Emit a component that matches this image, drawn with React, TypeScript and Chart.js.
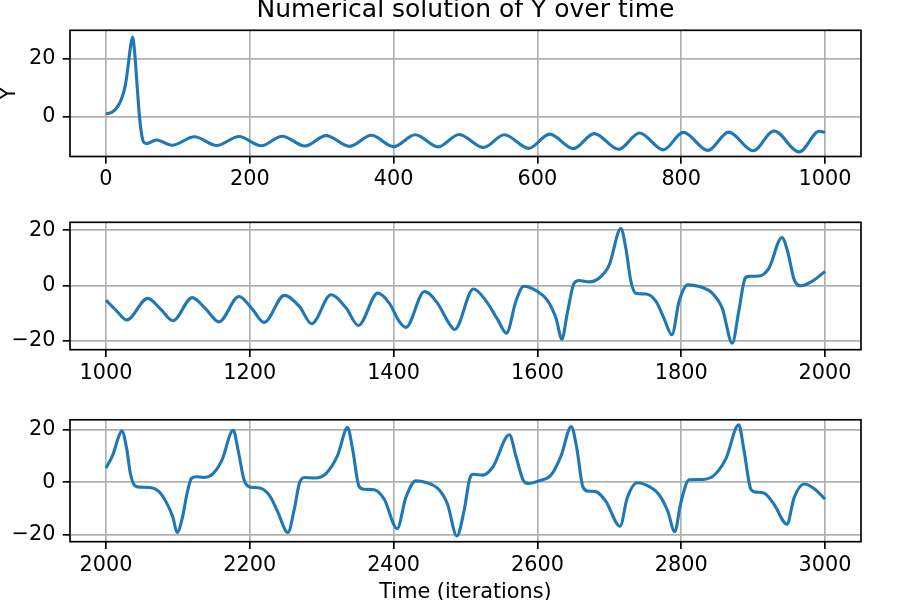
import { useEffect, useRef } from "react"
import { Chart, registerables } from "chart.js"

Chart.register(...registerables)

// Values (iteration, Y)
const panel1Time = [
  0, 8, 16, 22, 27, 31, 34, 37, 40, 43, 46, 49, 52, 56, 70, 92, 123, 154, 185, 216, 245, 277, 306, 339,
  369, 400, 430, 462, 491, 525, 554, 588, 617, 650, 679, 713, 742, 775, 803, 837, 866, 900, 929, 964,
  992, 1000,
]
const panel1Y = [
  1.1, 1.6, 3.5, 6.5, 11, 18, 24, 27.6, 22, 12, 2, -5, -8.5, -9.2, -7.9, -9.7, -6.8, -9.8, -6.7, -9.9,
  -6.6, -10.0, -6.4, -10.1, -6.3, -10.2, -6.1, -10.3, -6.0, -10.5, -6.1, -10.8, -5.9, -10.9, -5.7,
  -11.1, -5.5, -11.3, -5.3, -11.5, -5.2, -11.6, -4.8, -12.0, -4.9, -5.3,
]

const panel2Time = [
  1000, 1015, 1029, 1058, 1076, 1093, 1120, 1139, 1157, 1185, 1203, 1220, 1248, 1269, 1286, 1313, 1334,
  1351, 1378, 1394, 1408, 1417, 1443, 1461, 1477, 1485, 1511, 1528, 1545, 1557, 1570, 1581, 1600, 1614,
  1626, 1634, 1642, 1651, 1658, 1672, 1686, 1700, 1716, 1723, 1730, 1737, 1751, 1765, 1776, 1787, 1797,
  1809, 1825, 1843, 1857, 1871, 1880, 1889, 1894, 1908, 1922, 1940, 1948, 1957, 1966, 1982, 2000,
]
const panel2Y = [
  -5.3, -9.3, -12.5, -4.7, -8.6, -12.8, -4.4, -8.6, -13.2, -4.0, -8.4, -13.4, -3.6, -7.6, -13.9, -3.4,
  -8.2, -14.5, -2.8, -6.4, -13.1, -15.2, -2.2, -6.4, -13.7, -16.0, -1.3, -5.4, -12.5, -17.3, -5.8,
  -0.3, -2.2, -5.4, -12.0, -19.5, -9.4, 0.8, 1.8, 1.3, 2.7, 7.5, 20.6, 13.5, 1.5, -2.8, -3.1, -5.8,
  -11.9, -17.9, -5.8, 0.2, -0.4, -2.8, -8.2, -20.9, -9.4, 2.7, 3.3, 3.4, 6.3, 17.4, 12.3, 2.1, -0.1,
  1.5, 5.1,
]

const panel3Time = [
  2000, 2010, 2016, 2022, 2029, 2034, 2040, 2047, 2061, 2073, 2084, 2093, 2099, 2106, 2113, 2119, 2126,
  2135, 2149, 2161, 2177, 2184, 2192, 2200, 2214, 2228, 2239, 2253, 2262, 2269, 2276, 2290, 2306, 2322,
  2336, 2343, 2352, 2359, 2373, 2387, 2405, 2417, 2431, 2445, 2463, 2475, 2488, 2498, 2506, 2511, 2524,
  2538, 2561, 2570, 2580, 2587, 2603, 2619, 2633, 2647, 2655, 2663, 2670, 2681, 2695, 2715, 2725, 2739,
  2755, 2769, 2781, 2791, 2799, 2811, 2825, 2843, 2862, 2880, 2887, 2897, 2904, 2915, 2929, 2947, 2957,
  2971, 2985, 3000,
]
const panel3Y = [
  5.4, 10.7, 16.0, 19.6, 12.5, 3.3, -1.3, -1.9, -2.0, -3.4, -7.7, -13.3, -19.2, -13.9, -4.0, 1.5, 2.1,
  1.8, 3.3, 8.2, 19.8, 11.9, 0.9, -1.8, -2.2, -5.3, -11.4, -19.2, -10.2, -0.4, 1.8, 1.6, 3.3, 10.1,
  20.8, 12.6, -1.6, -2.7, -2.9, -6.5, -17.7, -5.9, 0.5, -0.1, -2.8, -8.4, -20.5, -10.9, 1.5, 3.0, 2.7,
  5.8, 18.1, 10.1, 0.9, -0.5, 0.6, 2.7, 10.1, 21.2, 12.6, -1.6, -3.4, -3.6, -7.2, -16.8, -5.9, -0.2,
  -1.6, -4.7, -10.9, -18.9, -8.4, 0.9, 1.0, 2.1, 8.9, 21.9, 12.6, -2.8, -3.8, -4.1, -8.4, -16.0, -5.9,
  -0.7, -2.5, -6.5,
]

const xTicks1 = [0, 200, 400, 600, 800, 1000]
const xTicks2 = [1000, 1200, 1400, 1600, 1800, 2000]
const xTicks3 = [2000, 2200, 2400, 2600, 2800, 3000]
const yTicks1 = [0, 20]
const yTicks2 = [-20, 0, 20]
const yTicks3 = [-20, 0, 20]

const FONT = "'DejaVu Sans'"
const TICK_SIZE = 20.8
const LW = 1.67

const fmt = (v: number | string) => {
  const n = Number(v)
  return n < 0 ? "\u2212" + Math.abs(n) : String(n)
}

// Draws the four axes spines around the plot area
const framePlugin = {
  id: "frame",
  afterDatasetsDraw(chart: any) {
    const { ctx, chartArea } = chart
    ctx.save()
    ctx.strokeStyle = "#000"
    ctx.lineWidth = LW
    ctx.strokeRect(chartArea.left, chartArea.top, chartArea.right - chartArea.left, chartArea.bottom - chartArea.top)
    ctx.restore()
  },
}

interface PanelProps {
  time: number[]
  values: number[]
  xTicks: number[]
  yTicks: number[]
  xRange: [number, number]
  yRange: [number, number]
  top: number
  padTop: number
  xAxisHeight: number
  title?: string
  yLabel?: string
  xLabel?: string
}

function Panel({ time, values, xTicks, yTicks, xRange, yRange, top, padTop, xAxisHeight, title, yLabel, xLabel }: PanelProps) {
  const canvasRef = useRef<HTMLCanvasElement>(null)
  const chartInstance = useRef<Chart | null>(null)

  useEffect(() => {
    if (!canvasRef.current) return
    if (chartInstance.current) chartInstance.current.destroy()

    const points = time.map((t, i) => ({ x: t, y: values[i] }))
    const grid = {
      color: "#b0b0b0",
      lineWidth: LW,
      tickColor: "#000",
      tickWidth: LW,
      tickLength: 7.3,
      drawTicks: true,
    }

    chartInstance.current = new Chart(canvasRef.current, {
      type: "line",
      data: {
        datasets: [
          {
            data: points,
            borderColor: "#1f77b4",
            borderWidth: 3.1,
            pointRadius: 0,
            fill: false,
            cubicInterpolationMode: "monotone",
            borderJoinStyle: "round",
          },
        ],
      },
      options: {
        animation: false,
        responsive: false,
        events: [],
        layout: { padding: { top: padTop, right: 39, left: 0, bottom: 0 } },
        plugins: {
          legend: { display: false },
          tooltip: { enabled: false },
          title: {
            display: !!title,
            text: title || "",
            color: "#000",
            fullSize: false,
            font: { family: FONT, size: 25, weight: "normal", lineHeight: 0.832 },
            padding: { top: 0, bottom: 9.5 },
          },
        },
        scales: {
          x: {
            type: "linear",
            min: xRange[0],
            max: xRange[1],
            afterBuildTicks: (axis: any) => {
              axis.ticks = xTicks.map((value) => ({ value }))
            },
            afterFit: (axis: any) => {
              axis.height = xAxisHeight
            },
            grid,
            border: { display: false },
            ticks: {
              color: "#000",
              font: { family: FONT, size: TICK_SIZE },
              padding: 3.8,
              maxRotation: 0,
              autoSkip: false,
              callback: fmt,
            },
            title: {
              display: !!xLabel,
              text: xLabel || "",
              color: "#000",
              font: { family: FONT, size: TICK_SIZE, lineHeight: 0.673 },
              padding: 0,
            },
          },
          y: {
            type: "linear",
            min: yRange[0],
            max: yRange[1],
            afterBuildTicks: (axis: any) => {
              axis.ticks = yTicks.map((value) => ({ value }))
            },
            afterFit: (axis: any) => {
              axis.width = 70
            },
            grid,
            border: { display: false },
            ticks: {
              color: "#000",
              font: { family: FONT, size: TICK_SIZE },
              padding: 7.3,
              autoSkip: false,
              callback: fmt,
            },
            title: {
              display: !!yLabel,
              text: yLabel || "",
              color: "#000",
              font: { family: FONT, size: TICK_SIZE, lineHeight: 0.9 },
              padding: 0,
            },
          },
        },
      },
      plugins: [framePlugin],
    } as any)

    return () => {
      if (chartInstance.current) {
        chartInstance.current.destroy()
        chartInstance.current = null
      }
    }
  }, [time, values])

  return (
    <canvas
      ref={canvasRef}
      width={900}
      height={200}
      style={{ position: "absolute", left: 0, top, width: 900, height: 200 }}
    />
  )
}

export default function App() {
  return (
    <div style={{ position: "absolute", left: 0, top: 0, width: 900, height: 600, background: "#fff", overflow: "hidden" }}>
      <Panel
        time={panel1Time}
        values={panel1Y}
        xTicks={xTicks1}
        yTicks={yTicks1}
        xRange={[-50, 1050]}
        yRange={[-13.6, 29.9]}
        top={0}
        padTop={0}
        xAxisHeight={43.5}
        title="Numerical solution of Y over time"
        yLabel="Y"
      />
      <Panel
        time={panel2Time}
        values={panel2Y}
        xTicks={xTicks2}
        yTicks={yTicks2}
        xRange={[950, 2050]}
        yRange={[-23.3, 22.9]}
        top={200}
        padTop={22.3}
        xAxisHeight={50.3}
      />
      <Panel
        time={panel3Time}
        values={panel3Y}
        xTicks={xTicks3}
        yTicks={yTicks3}
        xRange={[1950, 3050]}
        yRange={[-22.7, 23.8]}
        top={400}
        padTop={15.7}
        xAxisHeight={58.3}
        xLabel="Time (iterations)"
      />
    </div>
  )
}
